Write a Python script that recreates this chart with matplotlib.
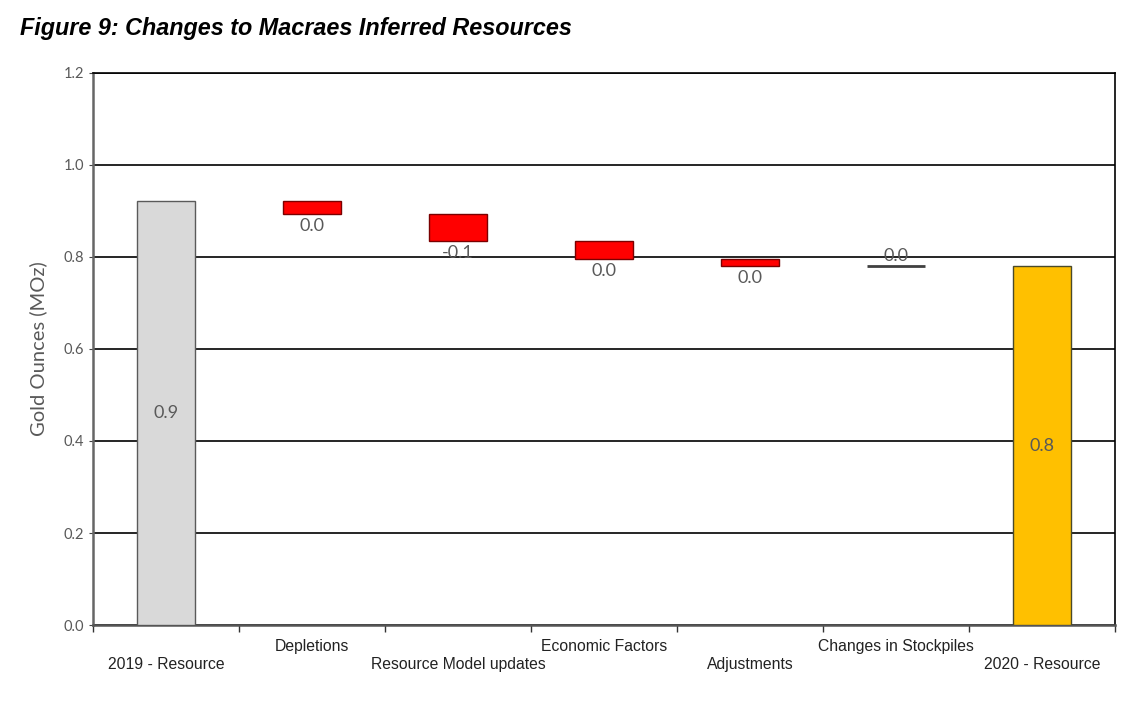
import numpy as np
import matplotlib.pyplot as plt
import matplotlib as mpl

mpl.rcParams['font.family'] = 'Liberation Sans'

categories = ['2019 - Resource', 'Depletions', 'Resource Model updates', 'Economic Factors',
              'Adjustments', 'Changes in Stockpiles', '2020 - Resource']
start_total = 0.922
changes = [-0.028, -0.059, -0.039, -0.016, 0.0]
end_total = 0.780
labels = ['0.9', '0.0', '-0.1', '0.0', '0.0', '0.0', '0.8']

fig = plt.figure(figsize=(11.36, 7.01), dpi=100)
ax = fig.add_axes([0.0819, 0.1084, 0.8996, 0.7875])

x = np.arange(len(categories))
w = 0.4
gray_txt = '#595959'

# totals
ax.bar(x[0], start_total, width=w, color='#d9d9d9', edgecolor='#5a5a5a', linewidth=1, zorder=3)
ax.bar(x[-1], end_total, width=w, color='#ffc000', edgecolor='#4a4a2a', linewidth=1, zorder=3)
ax.text(x[0], start_total / 2, labels[0], ha='center', va='center', fontsize=13,
        color=gray_txt, family='Lato', zorder=4)
ax.text(x[-1], end_total / 2, labels[-1], ha='center', va='center', fontsize=13,
        color=gray_txt, family='Lato', zorder=4)

# floating changes
level = start_total
for i, c in enumerate(changes):
    xi = x[i + 1]
    bottom = level + c
    if c == 0:
        ax.hlines(level, xi - w / 2, xi + w / 2, color='#404040', linewidth=2, zorder=3)
        ax.text(xi, level + 0.004, labels[i + 1], ha='center', va='bottom', fontsize=13,
                color=gray_txt, family='Lato', zorder=4)
    else:
        ax.bar(xi, -c, bottom=bottom, width=w, color='#ff0000', edgecolor='#7a0000',
               linewidth=1, zorder=3)
        ax.text(xi, bottom - 0.009, labels[i + 1], ha='center', va='top', fontsize=13,
                color=gray_txt, family='Lato', zorder=4)
    level = bottom

ax.set_xlim(-0.5, len(categories) - 0.5)
ax.set_ylim(0, 1.2)
ax.set_yticks(np.arange(0, 1.21, 0.2))
ax.set_yticklabels(['%.1f' % v for v in np.arange(0, 1.21, 0.2)], color=gray_txt,
                   family='Lato', fontsize=10.5)
ax.yaxis.grid(True, color='black', linewidth=1.2, zorder=1)
ax.set_axisbelow(True)
ax.tick_params(axis='y', length=3, color='#444444')

ax.set_xticks(np.arange(-0.5, len(categories), 1.0))
ax.set_xticklabels([])
ax.tick_params(axis='x', length=5, color='#333333', width=1)
for i, cat in enumerate(categories):
    ypos = -0.058 if i % 2 == 0 else -0.026
    ax.text(x[i], ypos, cat, ha='center', va='top', fontsize=11.3, color='#222222',
            transform=ax.get_xaxis_transform())

for s in ['top', 'right']:
    ax.spines[s].set_color('black')
    ax.spines[s].set_linewidth(1.2)
ax.spines['left'].set_color('#666666')
ax.spines['left'].set_linewidth(1.8)
ax.spines['bottom'].set_color('#555555')
ax.spines['bottom'].set_linewidth(1.8)

ax.set_ylabel('Gold Ounces (MOz)', color=gray_txt, fontsize=14.5, family='Lato', labelpad=12)

fig.text(0.0176, 0.96, 'Figure 9: Changes to Macraes Inferred Resources', fontsize=16.8,
         fontweight='bold', fontstyle='italic', va='center', ha='left')

fig.savefig('out.png')
